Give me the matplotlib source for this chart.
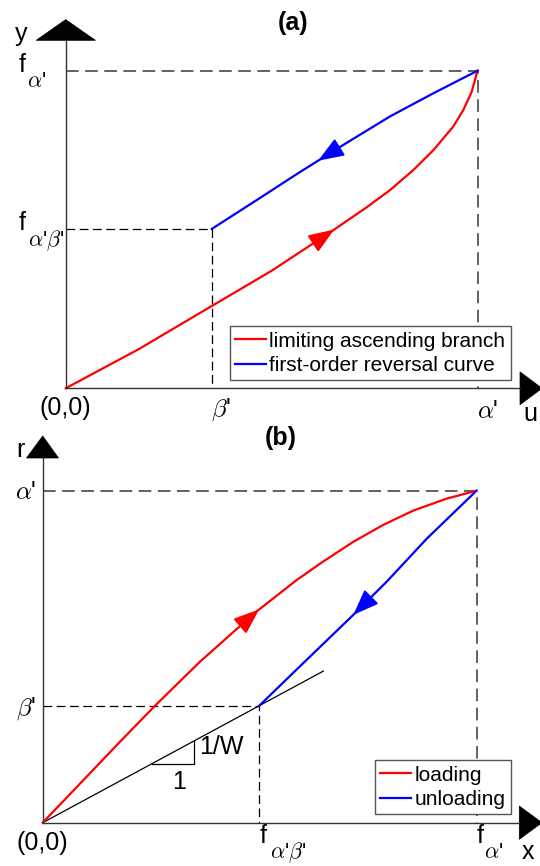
import matplotlib
matplotlib.use('Agg')
import matplotlib.pyplot as plt
from matplotlib.lines import Line2D
from matplotlib.patches import Polygon
import numpy as np

plt.rcParams['font.family'] = ['Liberation Sans', 'DejaVu Sans']
plt.rcParams['mathtext.fontset'] = 'cm'

# ---- data (normalised: alpha' = f_alpha' = 1) ----
# panel (a): u -> y
beta_a = 0.3545
f_ab_a = 0.5016
u_red_a = [0, 0.177, 0.3545, 0.5, 0.65, 0.731, 0.7875, 0.844, 0.893, 0.941, 0.9655, 0.986, 1.0]
y_red_a = [0, 0.123, 0.259, 0.37, 0.498, 0.570, 0.624, 0.687, 0.750, 0.824, 0.876, 0.934, 1.0]
u_blue_a = [0.3545, 0.469, 0.569, 0.68, 0.7875, 0.893, 1.0]
y_blue_a = [0.5016, 0.597, 0.681, 0.771, 0.856, 0.929, 1.0]

# panel (b): x -> r
beta_b = 0.3524
f_ab_b = 0.4993
x_red_b = [0, 0.182, 0.259, 0.3626, 0.489, 0.5855, 0.647, 0.716, 0.785, 0.854, 0.931, 1.0]
r_red_b = [0, 0.249, 0.3524, 0.485, 0.632, 0.731, 0.787, 0.846, 0.897, 0.940, 0.976, 1.0]
x_blue_b = [0.4993, 0.593, 0.716, 0.793, 0.885, 1.0]
r_blue_b = [0.3524, 0.471, 0.626, 0.726, 0.855, 1.0]

# where the direction arrows sit (x of the arrow tip)
arrow_red_a, arrow_blue_a = 0.652, 0.613
arrow_red_b, arrow_blue_b = 0.499, 0.716

W, H = 540, 866
fig = plt.figure(figsize=(W / 100, H / 100), dpi=100)


def fxy(px, py):
    # pixel (from top-left) -> figure fraction
    return px / W, 1 - py / H


def panel(ox, oy, cx, cy):
    l, b = fxy(ox, oy)
    r, t = fxy(cx, cy)
    ax = fig.add_axes([l, b, r - l, t - b])
    ax.set_xlim(0, 1)
    ax.set_ylim(0, 1)
    ax.axis('off')
    return ax


def fline(p0, p1, **kw):
    x0, y0 = fxy(*p0)
    x1, y1 = fxy(*p1)
    fig.add_artist(Line2D([x0, x1], [y0, y1], transform=fig.transFigure, **kw))


def ftri(pts):
    fig.add_artist(Polygon([fxy(*p) for p in pts], closed=True, transform=fig.transFigure,
                           facecolor='black', edgecolor='black', lw=0.5))


def ftext(px, py, s, **kw):
    x, y = fxy(px, py)
    kw.setdefault('fontsize', 18)
    fig.text(x, y, s, ha='center', va='center', **kw)


def dir_arrow(ax, xs, ys, tip, back, color):
    tail = tip + back
    ax.annotate('', xy=(tip, np.interp(tip, xs, ys)), xytext=(tail, np.interp(tail, xs, ys)),
                arrowprops=dict(arrowstyle='-|>,head_length=0.68,head_width=0.26', color=color,
                                lw=1.5, shrinkA=0, shrinkB=0, mutation_scale=23))


dash_grey = dict(color='#555555', lw=1.3, ls=(0, (7, 3.6)), clip_on=False)
dash_black = dict(color='black', lw=0.9, ls=(0, (7, 3.6)), clip_on=False)
axis_kw = dict(color='#333333', lw=1.0)
sub = 16

# ================= panel (a) =================
ax_a = panel(65.7, 388.3, 477.5, 70.7)
ax_a.plot([0, 1, 1], [1, 1, 0], **dash_grey)
ax_a.plot([0, beta_a, beta_a], [f_ab_a, f_ab_a, 0], **dash_black)
la1, = ax_a.plot(u_red_a, y_red_a, color='red', lw=1.6, clip_on=False)
la2, = ax_a.plot(u_blue_a, y_blue_a, color='blue', lw=1.6, clip_on=False)
dir_arrow(ax_a, u_red_a, y_red_a, arrow_red_a, -0.04, 'red')
dir_arrow(ax_a, u_blue_a, y_blue_a, arrow_blue_a, 0.04, 'blue')
leg = ax_a.legend([la1, la2], ['limiting ascending branch', 'first-order reversal curve'],
                  loc='lower right', bbox_to_anchor=fxy(510.7, 380), bbox_transform=fig.transFigure,
                  fontsize=15, fancybox=False, framealpha=1, edgecolor='#555555',
                  handlelength=1.5, handletextpad=0.16, borderpad=0.25, labelspacing=0.25,
                  borderaxespad=0)
leg.get_frame().set_linewidth(1.0)

fline((65.7, 388.3), (65.7, 40.3), **axis_kw)
fline((65.7, 388.3), (520, 388.3), **axis_kw)
ftri([(36.2, 40.3), (95.4, 40.3), (65.7, 19.6)])
ftri([(520, 371.8), (520, 404.8), (542, 388.3)])

ftext(293.5, 23, '(a)', fontweight='bold')
ftext(21.5, 34, 'y')
ftext(22, 65, 'f')
ftext(37, 82, r"$\alpha$'", fontsize=sub)
ftext(22, 223, 'f')
ftext(46, 241, r"$\alpha$'$\beta$'", fontsize=sub)
ftext(65.7, 408, '(0,0)')
ftext(221, 410, r"$\beta$'")
ftext(488, 411, r"$\alpha$'")
ftext(530, 414, 'u')

# ================= panel (b) =================
ax_b = panel(42.7, 822.7, 476.5, 490.7)
ax_b.plot([0, 1, 1], [1, 1, 0], **dash_grey)
ax_b.plot([0, f_ab_b, f_ab_b], [beta_b, beta_b, 0], **dash_black)
slope = beta_b / f_ab_b
x_tan = np.array([0, 0.647])
ax_b.plot(x_tan, slope * x_tan, color='black', lw=0.9, clip_on=False)
ax_b.plot([0.251, 0.349, 0.349], [slope * 0.251, slope * 0.251, slope * 0.349], color='black', lw=0.9)
lb1, = ax_b.plot(x_red_b, r_red_b, color='red', lw=1.6, clip_on=False)
lb2, = ax_b.plot(x_blue_b, r_blue_b, color='blue', lw=1.6, clip_on=False)
dir_arrow(ax_b, x_red_b, r_red_b, arrow_red_b, -0.04, 'red')
dir_arrow(ax_b, x_blue_b, r_blue_b, arrow_blue_b, 0.04, 'blue')
leg = ax_b.legend([lb1, lb2], ['loading', 'unloading'],
                  loc='lower right', bbox_to_anchor=fxy(510.7, 814), bbox_transform=fig.transFigure,
                  fontsize=15, fancybox=False, framealpha=1, edgecolor='#555555',
                  handlelength=1.5, handletextpad=0.16, borderpad=0.25, labelspacing=0.25,
                  borderaxespad=0)
leg.get_frame().set_linewidth(1.0)

fline((42.7, 822.7), (42.7, 458), **axis_kw)
fline((42.7, 822.7), (519.3, 822.7), **axis_kw)
ftri([(26.5, 458), (58.5, 458), (42.7, 436)])
ftri([(519.3, 806), (519.3, 839.3), (542, 822.7)])

ftext(281, 438, '(b)', fontweight='bold')
ftext(20, 450, 'r')
ftext(26, 492, r"$\alpha$'")
ftext(26, 709, r"$\beta$'")
ftext(42.5, 843, '(0,0)')
ftext(221, 747, '1/W')
ftext(179, 782, '1')
ftext(263.5, 836, 'f')
ftext(288, 853, r"$\alpha$'$\beta$'", fontsize=sub)
ftext(480, 836, 'f')
ftext(494, 853, r"$\alpha$'", fontsize=sub)
ftext(528, 852, 'x')

fig.savefig('out.png', dpi=100)
